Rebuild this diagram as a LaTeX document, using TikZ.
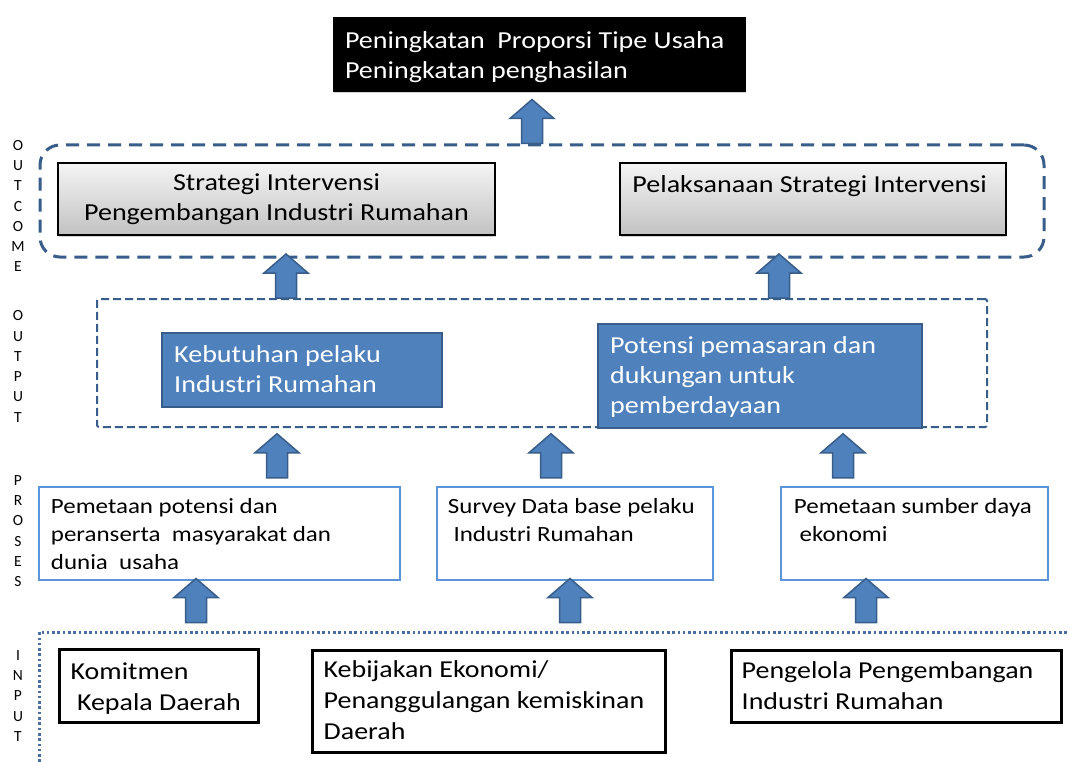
\documentclass[tikz,border=0pt]{standalone}
\usepackage{fontspec}
\setmainfont{Carlito}
\newfontfamily\widefont[FakeStretch=1.15]{Carlito}
\usepackage{xcolor}
\usepackage{tikz}
\usetikzlibrary{positioning,shadows}

\definecolor{arrowblue}{HTML}{4F81BD}
\definecolor{darkblue}{HTML}{385D8A}
\definecolor{lightblue}{HTML}{5B95D9}
\definecolor{dotblue}{HTML}{4A6FA5}

% block arrow pointing up, #1 = middle of its foot
\newcommand{\blockup}[1]{%
  \draw[blockarrow] (#1) ++(-10.5,0) -- ++(0,-25) -- ++(-11.5,0) -- ++(22,-19)
    -- ++(22,19) -- ++(-11.5,0) -- ++(0,25) -- cycle;}

\begin{document}
\begin{tikzpicture}[x=1pt, y=-1pt,
  box/.style={draw, rectangle, inner sep=0pt},
  goal/.style={box, fill=black, drop shadow={shadow xshift=1pt, shadow yshift=-2pt, opacity=.35}},
  strat/.style={box, line width=1.5pt, top color=gray!8, bottom color=gray!48,
    drop shadow={shadow xshift=1pt, shadow yshift=-2pt, opacity=.35}},
  result/.style={box, fill=arrowblue, draw=darkblue, line width=2pt},
  probox/.style={box, draw=lightblue, line width=2.5pt},
  inbox/.style={box, line width=3pt},
  outcbox/.style={box, draw=darkblue, line width=3pt, rounded corners=20pt, dash pattern=on 13pt off 8pt},
  outpbox/.style={box, draw=darkblue, line width=2pt, rounded corners=2pt, dash pattern=on 8pt off 4pt},
  txt/.style={inner sep=0pt, align=left},
  bigtxt/.style={txt, font=\widefont\fontsize{24.4}{29.8}\selectfont},
  protxt/.style={txt, font=\widefont\fontsize{21.7}{27.8}\selectfont},
  intxt/.style={txt, font=\widefont\fontsize{24.3}{31}\selectfont},
  side/.style={inner sep=0pt, align=center, font=\fontsize{15.5}{20.3}\selectfont},
  blockarrow/.style={fill=arrowblue, draw=darkblue, line width=1.5pt, line join=miter}
]
\useasboundingbox (0,0) rectangle (1070,762);

% Side labels
\node[side] (lbloutc) at (18,206) {O\\U\\T\\C\\O\\M\\E};
\node[side] (lbloutp) at (18,366.5) {O\\U\\T\\P\\U\\T};
\node[side] (lblpros) at (18,531) {P\\R\\O\\S\\E\\S};
\node[side] (lblinp) at (18,696) {I\\N\\P\\U\\T};

% Goal
\node[goal, minimum width=412, minimum height=74] (goal) at (539,54) {};
\node[bigtxt, text=white, below right=15pt and 12pt of goal.north west] (goaltxt)
  {Peningkatan\ \ Proporsi Tipe Usaha\\Peningkatan penghasilan};

% Outcome
\node[outcbox, minimum width=1004, minimum height=112] (outc) at (542,201) {};
\node[strat, minimum width=437, minimum height=72, align=center,
  font=\widefont\fontsize{24.4}{29.8}\selectfont] (strat) at (276.5,199)
  {Strategi Intervensi\\Pengembangan Industri Rumahan};
\node[strat, minimum width=386, minimum height=72] (pelak) at (813,199) {};
\node[bigtxt, below right=13.5pt and 13pt of pelak.north west] (pelaktxt)
  {Pelaksanaan Strategi Intervensi};

% Output
\node[outpbox, minimum width=890, minimum height=128] (outp) at (542,363) {};
\node[result, minimum width=280, minimum height=74] (kebut) at (302,370) {};
\node[bigtxt, text=white, below right=13.5pt and 13pt of kebut.north west] (kebuttxt)
  {Kebutuhan pelaku\\Industri Rumahan};
\node[result, minimum width=324, minimum height=104] (poten) at (760,376) {};
\node[bigtxt, text=white, below right=13.5pt and 13pt of poten.north west] (potentxt)
  {Potensi pemasaran dan\\dukungan untuk\\pemberdayaan};

% Proses
\node[probox, minimum width=361, minimum height=93] (proc1) at (219.5,533.5) {};
\node[protxt, below right=12.8pt and 13pt of proc1.north west] (proc1txt)
  {Pemetaan potensi dan\\peranserta\ \ masyarakat dan\\dunia\ \ usaha};
\node[probox, minimum width=276, minimum height=93] (proc2) at (575,533.5) {};
\node[protxt, below right=12.8pt and 12pt of proc2.north west] (proc2txt)
  {Survey Data base pelaku\\\ Industri Rumahan};
\node[probox, minimum width=267, minimum height=93] (proc3) at (914.5,533.5) {};
\node[protxt, below right=12.8pt and 14pt of proc3.north west] (proc3txt)
  {Pemetaan sumber daya\\\ ekonomi};

% Input
\draw[dotblue, line width=3pt, dash pattern=on 2.6pt off 2.7pt] (39,762) |- (1070,632);
\node[inbox, minimum width=199, minimum height=73] (inp1) at (158.5,685.5) {};
\node[intxt, below right=15pt and 13pt of inp1.north west] (inp1txt)
  {Komitmen\\\ Kepala Daerah};
\node[inbox, minimum width=353, minimum height=102] (inp2) at (488.5,701) {};
\node[intxt, below right=12pt and 13pt of inp2.north west] (inp2txt)
  {Kebijakan Ekonomi/\\Penanggulangan kemiskinan\\Daerah};
\node[inbox, minimum width=330, minimum height=72] (inp3) at (896,686) {};
\node[intxt, below right=12.5pt and 12pt of inp3.north west] (inp3txt)
  {Pengelola Pengembangan\\Industri Rumahan};

% Arrows
\coordinate (arr0) at ([xshift=-10pt]outc.north);
\coordinate (arr1) at ([xshift=-256pt]outp.north);
\coordinate (arr2) at ([xshift=237pt]outp.north);
\coordinate (arr3) at ([xshift=57.5pt, yshift=8pt]proc1.north);
\coordinate (arr4) at ([xshift=-24pt, yshift=8pt]proc2.north);
\coordinate (arr5) at ([xshift=-71.5pt, yshift=8pt]proc3.north);
\coordinate (arr6) at ([xshift=37.5pt, yshift=25pt]inp1.north);
\coordinate (arr7) at ([xshift=81.5pt, yshift=26pt]inp2.north);
\coordinate (arr8) at ([xshift=-30pt, yshift=26pt]inp3.north);
\blockup{arr0}
\blockup{arr1}
\blockup{arr2}
\blockup{arr3}
\blockup{arr4}
\blockup{arr5}
\blockup{arr6}
\blockup{arr7}
\blockup{arr8}

\end{tikzpicture}
\end{document}
